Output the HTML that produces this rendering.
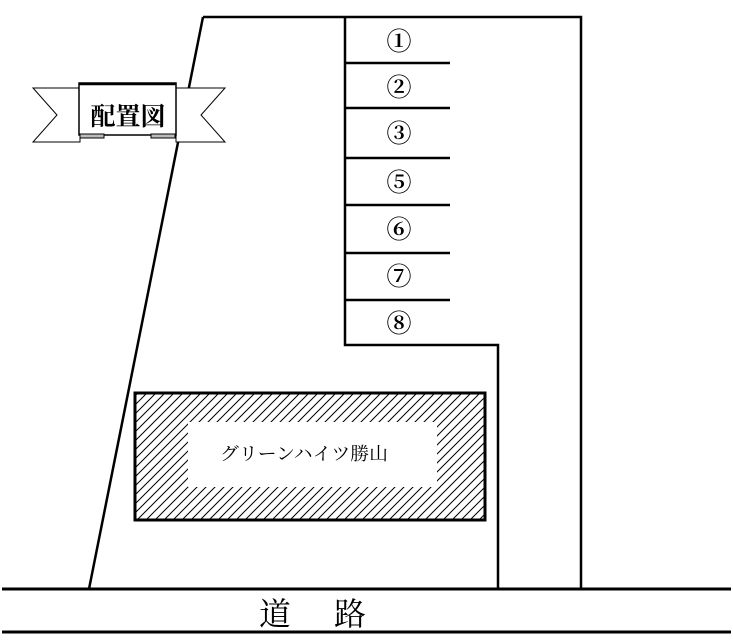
<!DOCTYPE html>
<html><head><meta charset="utf-8"><style>
html,body{margin:0;padding:0;background:#fff;width:733px;height:640px;overflow:hidden}
svg{display:block}
text{font-family:"Liberation Serif","Noto Serif CJK SC","Noto Sans CJK JP",serif;fill:#000}
</style></head><body>
<svg width="733" height="640" viewBox="0 0 733 640" xmlns="http://www.w3.org/2000/svg">
<defs>
<pattern id="h" width="9" height="9" patternUnits="userSpaceOnUse">
<path d="M-1,10 L10,-1 M-1,1 L1,-1 M8,10 L10,8" stroke="#000" stroke-width="1"/>
</pattern>
</defs>
<g stroke="#000" fill="none" stroke-width="2.5">
<line x1="203" y1="17" x2="89" y2="589"/>
<polyline points="203,17 581,17 581,589"/>
<polyline points="345,17 345,345 498,345 498,589"/>
<line x1="345" y1="63" x2="450" y2="63"/>
<line x1="345" y1="108" x2="450" y2="108"/>
<line x1="345" y1="158" x2="450" y2="158"/>
<line x1="345" y1="205" x2="450" y2="205"/>
<line x1="345" y1="253" x2="450" y2="253"/>
<line x1="345" y1="300" x2="450" y2="300"/>
<line x1="2" y1="589" x2="731" y2="589" stroke-width="3"/>
<line x1="2" y1="632" x2="731" y2="632" stroke-width="3"/>
</g>
<rect x="135" y="393" width="350" height="127" fill="url(#h)" stroke="#000" stroke-width="3"/>
<rect x="188" y="422" width="249" height="65" fill="#fff"/>
<text x="304" y="460" font-size="18" text-anchor="middle" font-family="Liberation Sans,Noto Sans CJK JP,sans-serif" textLength="168" lengthAdjust="spacingAndGlyphs">グリーンハイツ勝山</text>
<g font-size="25" text-anchor="middle" font-weight="bold">
<text x="399" y="50">①</text>
<text x="399" y="96">②</text>
<text x="399" y="142">③</text>
<text x="399" y="191">⑤</text>
<text x="399" y="238">⑥</text>
<text x="399" y="285">⑦</text>
<text x="399" y="332">⑧</text>
</g>
<text x="259" y="625" font-size="32">道</text>
<text x="334" y="625" font-size="32">路</text>
<g stroke="#000" stroke-width="1" fill="#fff">
<polygon points="33,88 80,88 80,142 33,142 57,115"/>
<polygon points="225,88 176,88 176,142 225,142 201,115"/>
<rect x="79" y="83" width="97" height="52" stroke-width="1.5"/>
<rect x="80" y="134" width="24" height="4" fill="#bbb"/>
<rect x="151" y="134" width="24" height="4" fill="#bbb"/>
</g>
<line x1="79" y1="84" x2="176" y2="84" stroke="#000" stroke-width="2.5"/>
<text x="128" y="125" font-size="25" font-weight="bold" text-anchor="middle" font-family="Liberation Sans,Noto Sans CJK JP,sans-serif">配置図</text>
</svg>
</body></html>
